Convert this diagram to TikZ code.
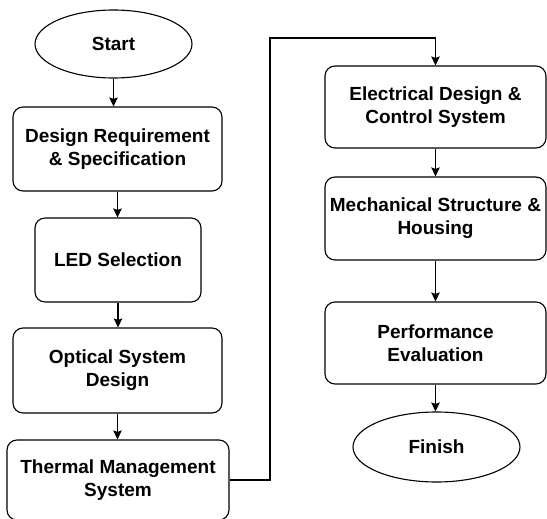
\documentclass[tikz,border=0pt]{standalone}
\usepackage{fontspec}
\setmainfont{Liberation Sans}
\usetikzlibrary{shapes.geometric,arrows.meta}
\begin{document}
\begin{tikzpicture}[x=1pt,y=-1pt,
  every node/.style={font=\fontsize{19}{23}\selectfont\bfseries, align=center, inner sep=0pt},
  box/.style={draw, line width=1.1pt, rounded corners=10pt, minimum width=#1},
  term/.style={draw, ellipse, line width=1.1pt},
  arr/.style={line width=1.1pt, -{Stealth[length=9pt,width=8.5pt,inset=1.5pt]}},
  line/.style={line width=1.1pt}]
\useasboundingbox (0,0) rectangle (547,519);
\node[term, minimum width=157pt, minimum height=68pt] (start) at (113.5,44) {Start};
\node[box=209pt, minimum height=84pt] (req) at (117.5,149) {Design Requirement\\\& Specification};
\node[box=166pt, minimum height=84pt] (led) at (118,260) {LED Selection};
\node[box=209pt, minimum height=85pt] (opt) at (117.5,370.5) {Optical System\\Design};
\node[box=222pt, minimum height=80pt] (therm) at (118,480) {Thermal Management\\System};
\node[box=221pt, minimum height=82pt] (elec) at (435.5,107) {Electrical Design \&\\Control System};
\node[box=221pt, minimum height=83pt] (mech) at (435.5,218.5) {Mechanical Structure \&\\Housing};
\node[box=221pt, minimum height=82pt] (perf) at (435.5,343) {Performance\\Evaluation};
\node[term, minimum width=167pt, minimum height=70pt] (fin) at (436.5,447) {Finish};
\coordinate (c1) at (270,480);
\coordinate (c2) at (270,38);
\coordinate (c3) at (435.5,38);
\draw[arr] (start.south) -- (start.south |- req.north);
\draw[arr] (req.south) -- (req.south |- led.north);
\draw[arr] (led.south) -- (led.south |- opt.north);
\draw[arr] (opt.south) -- (opt.south |- therm.north);
\draw[arr] (therm.east) -- (c1) -- (c2) -- (c3) -- (elec.north);
\draw[arr] (elec.south) -- (mech.north);
\draw[arr] (mech.south) -- (perf.north);
\draw[arr] (perf.south) -- (perf.south |- fin.north);
\end{tikzpicture}
\end{document}
